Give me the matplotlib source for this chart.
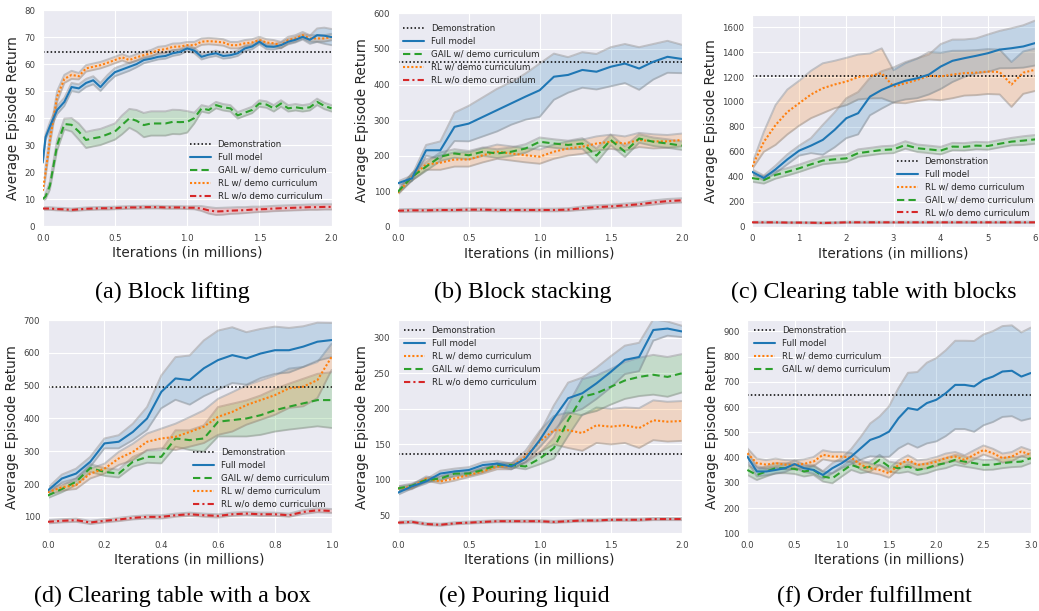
import matplotlib
matplotlib.use("Agg")
import matplotlib.pyplot as plt
import numpy as np
import seaborn as sns

# ---------- data ----------
# (a) Block lifting
xa = [0, 0.02, 0.05, 0.1, 0.15, 0.2, 0.25, 0.3, 0.35, 0.4, 0.45, 0.5, 0.55, 0.6, 0.65, 0.7, 0.75,
      0.8, 0.85, 0.9, 0.95, 1.0, 1.05, 1.1, 1.15, 1.2, 1.25, 1.3, 1.35, 1.4, 1.45, 1.5, 1.55, 1.6,
      1.65, 1.7, 1.75, 1.8, 1.85, 1.9, 1.95, 2.0]
a_full = [23.5, 33, 37, 43, 46, 51.5, 51, 53, 54, 51.5, 54.5, 57, 58, 59, 60, 61.5, 62, 62.7, 63,
          64, 64.5, 65.8, 65, 62.7, 63.5, 64, 63, 63.3, 64, 65.8, 66.5, 68.3, 66.5, 66.4, 67, 68.3,
          69, 70.1, 69, 70.7, 70.5, 70]
a_full_sd = [0.5, 1, 1.5, 1.5, 1.5, 1.5, 1.5, 1.5, 1.5, 1.5, 1.5, 1.5, 1.5, 1.5, 1.2, 1.2, 1, 1, 1,
             1, 1, 1, 1, 1, 1, 1, 1, 1, 1, 1, 1, 1, 1, 1, 1, 1, 1, 1, 1.5, 2.5, 3, 3]
a_rl = [13, 20, 32, 48, 54.5, 56, 55.5, 58.4, 59, 59.6, 60.5, 61.5, 62.5, 61.5, 62.5, 63.3, 64,
        65.2, 65.5, 66.4, 66.5, 67, 67, 68.3, 68.5, 68.3, 68, 67, 67, 67.7, 68, 68.9, 68, 67.7, 67,
        68.9, 69.5, 70.7, 69.5, 69.5, 69.5, 70]
a_rl_sd = [1, 2, 2, 2, 1.5, 1.5, 1.2, 1.2, 1.2, 1.2, 1.2, 1.2, 1.2, 1.2, 1.2, 1.2, 1.2, 1.2, 1.2,
           1.2, 1.2, 1.2, 1.2, 1.2, 1.2, 1.2, 1.2, 1.2, 1.2, 1.2, 1.2, 1.2, 1.2, 1.2, 1.2, 1.2, 1.2,
           1.2, 1.2, 1.2, 1.2, 1.2]
a_gail = [10, 11, 15, 30, 37.8, 37.5, 35, 31.9, 32.5, 33, 34, 35, 37.5, 39.9, 39, 37.4, 38, 38,
          38, 38.6, 38.5, 38.6, 40, 43.6, 43, 44.8, 44, 43.6, 41, 42, 43, 45.4, 45, 43.6, 45.4,
          43.6, 44, 43.6, 44, 46, 44.5, 43.6]
a_gail_sd = [0.5, 1, 1.5, 2, 2, 2.5, 3, 3, 3, 3, 3, 3, 3.5, 3.5, 4, 4.5, 4.5, 4.5, 4.5, 4.5, 4.5,
             4, 2, 1.2, 1.2, 1.2, 1.2, 1.2, 1.2, 1.2, 1.2, 1.2, 1.2, 1.2, 1.2, 1.2, 1.2, 1.2, 1.2,
             1.2, 1.2, 1.2]
a_rlwo = [6.5, 6.5, 6.5, 6.3, 6.2, 6, 6.2, 6.4, 6.5, 6.6, 6.6, 6.7, 6.8, 6.9, 6.9, 7, 7, 7, 6.9,
          6.9, 6.9, 6.8, 6.8, 6.5, 5.8, 5.4, 5.5, 5.7, 5.8, 5.9, 6.1, 6.2, 6.3, 6.5, 6.6, 6.7, 6.8,
          6.9, 7, 7, 7.1, 7.1]
a_rlwo_sd = [0.5, 0.5, 0.5, 0.5, 0.5, 0.5, 0.5, 0.5, 0.5, 0.5, 0.5, 0.5, 0.5, 0.5, 0.5, 0.5, 0.5,
             0.5, 0.5, 0.5, 0.5, 0.5, 0.6, 0.9, 1.2, 1.3, 1.3, 1.2, 1.2, 1.1, 1.1, 1, 1, 1, 1, 1,
             1, 1, 1, 1, 1, 1]
a_demo = 64.5

# (b) Block stacking
xb = [0, 0.1, 0.2, 0.3, 0.4, 0.5, 0.6, 0.7, 0.8, 0.9, 1.0, 1.1, 1.2, 1.3, 1.4, 1.5, 1.6, 1.7, 1.8,
      1.9, 2.0]
b_full = [122, 136, 215, 215, 281, 290, 309, 328, 347, 366, 384, 422, 427, 441, 436, 450, 459,
          445, 464, 478, 472]
b_full_sd = [5, 8, 15, 25, 40, 50, 55, 60, 60, 65, 75, 65, 50, 50, 50, 55, 55, 60, 50, 45, 40]
b_gail = [98, 140, 169, 197, 206, 201, 211, 206, 211, 220, 239, 234, 230, 234, 200, 244, 211,
          248, 239, 234, 228]
b_gail_sd = [5, 10, 12, 12, 12, 12, 12, 12, 12, 12, 12, 12, 12, 15, 20, 15, 15, 12, 12, 12, 12]
b_rl = [95, 140, 175, 180, 189, 189, 201, 211, 206, 201, 197, 211, 220, 225, 234, 239, 234, 244,
        240, 240, 244]
b_rl_sd = [5, 10, 15, 20, 20, 20, 20, 20, 20, 20, 20, 20, 20, 20, 20, 20, 20, 20, 20, 18, 18]
b_rlwo = [45, 46, 46, 47, 47, 48, 48, 47, 47, 47, 47, 47, 48, 52, 55, 57, 60, 63, 68, 72, 74]
b_rlwo_sd = [4, 4, 4, 4, 4, 4, 4, 4, 4, 4, 4, 4, 4, 5, 5, 5, 5, 5, 6, 6, 6]
b_demo = 462

# (c) Clearing table with blocks
xc = [0, 0.25, 0.5, 0.75, 1.0, 1.25, 1.5, 1.75, 2.0, 2.25, 2.5, 2.75, 3.0, 3.25, 3.5, 3.75, 4.0,
      4.25, 4.5, 4.75, 5.0, 5.25, 5.5, 5.75, 6.0]
c_full = [440, 390, 460, 540, 610, 650, 696, 776, 870, 910, 1043, 1097, 1137, 1170, 1190, 1220,
          1284, 1330, 1351, 1370, 1391, 1420, 1431, 1445, 1472]
c_full_sd = [20, 20, 30, 40, 40, 60, 120, 140, 160, 170, 150, 150, 140, 150, 160, 160, 180, 170,
             150, 140, 150, 150, 160, 170, 180]
c_rl = [480, 680, 816, 920, 990, 1060, 1110, 1140, 1164, 1200, 1209, 1230, 1124, 1150, 1177,
        1210, 1204, 1220, 1231, 1235, 1244, 1240, 1140, 1235, 1258]
c_rl_sd = [20, 80, 160, 180, 180, 190, 200, 190, 190, 180, 180, 200, 130, 160, 170, 190, 190,
           190, 180, 180, 180, 180, 180, 170, 170]
c_gail = [390, 375, 415, 440, 468, 500, 530, 540, 548, 590, 602, 615, 620, 655, 629, 620, 610,
          642, 640, 650, 647, 665, 682, 690, 700]
c_gail_sd = [30, 30, 30, 30, 30, 30, 30, 30, 30, 30, 30, 30, 30, 30, 30, 30, 30, 30, 30, 30, 30,
             30, 30, 35, 35]
c_rlwo = [35, 35, 35, 33, 33, 32, 30, 32, 35, 35, 35, 35, 35, 35, 35, 35, 35, 35, 35, 35, 35, 35,
          35, 35, 35]
c_rlwo_sd = [5, 5, 5, 5, 5, 5, 5, 5, 5, 5, 5, 5, 5, 5, 5, 5, 5, 5, 5, 5, 5, 5, 5, 5, 5]
c_demo = 1205

# (d) Clearing table with a box
xd = [0, 0.05, 0.1, 0.15, 0.2, 0.25, 0.3, 0.35, 0.4, 0.45, 0.5, 0.55, 0.6, 0.65, 0.7, 0.75, 0.8,
      0.85, 0.9, 0.95, 1.0]
d_full = [180, 217, 232, 268, 324, 329, 359, 400, 481, 522, 517, 553, 578, 593, 583, 598, 608,
          608, 619, 634, 639]
d_full_sd = [8, 12, 15, 15, 15, 20, 25, 35, 50, 65, 75, 85, 90, 85, 80, 75, 72, 68, 62, 58, 52]
d_gail = [165, 185, 207, 249, 237, 232, 268, 283, 283, 339, 334, 339, 390, 395, 400, 410, 425,
          436, 446, 456, 456]
d_gail_sd = [8, 10, 10, 12, 12, 12, 15, 18, 20, 25, 30, 40, 45, 50, 55, 60, 65, 70, 75, 80, 85]
d_rl = [175, 190, 197, 232, 247, 278, 298, 329, 339, 344, 359, 375, 405, 420, 441, 456, 471,
        492, 497, 517, 588]
d_rl_sd = [8, 10, 12, 15, 15, 20, 25, 25, 30, 40, 45, 50, 55, 60, 60, 60, 60, 60, 60, 55, 40]
d_rlwo = [85, 88, 90, 83, 88, 92, 97, 100, 100, 105, 108, 105, 103, 108, 110, 108, 108, 105,
          115, 120, 118]
d_rlwo_sd = [5, 5, 5, 5, 5, 5, 5, 5, 5, 5, 5, 5, 5, 5, 5, 5, 5, 5, 6, 6, 6]
d_demo = 497

# (e) Pouring liquid
xe = [0, 0.1, 0.2, 0.3, 0.4, 0.5, 0.6, 0.7, 0.8, 0.9, 1.0, 1.1, 1.2, 1.3, 1.4, 1.5, 1.6, 1.7, 1.8,
      1.9, 2.0]
e_full = [82, 91, 98, 109, 112, 114, 121, 123, 119, 130, 156, 187, 215, 222, 236, 252, 269, 273,
          311, 313, 309]
e_full_sd = [3, 3, 3, 4, 4, 4, 4, 4, 4, 5, 10, 18, 22, 22, 22, 22, 20, 20, 15, 10, 8]
e_rl = [88, 90, 102, 98, 102, 107, 112, 119, 119, 133, 154, 170, 170, 166, 177, 175, 177, 173,
        184, 182, 183]
e_rl_sd = [3, 3, 3, 3, 3, 3, 3, 4, 4, 8, 15, 20, 25, 25, 25, 25, 25, 28, 28, 28, 28]
e_gail = [88, 92, 100, 102, 109, 109, 114, 121, 121, 119, 130, 145, 184, 217, 222, 231, 240, 245,
          248, 245, 250]
e_gail_sd = [3, 3, 3, 3, 3, 3, 3, 3, 3, 4, 8, 15, 22, 25, 25, 25, 26, 27, 28, 28, 27]
e_rlwo = [40, 41, 38, 37, 39, 40, 41, 42, 42, 42, 42, 41, 42, 43, 43, 44, 44, 44, 45, 45, 45]
e_rlwo_sd = [1.5, 1.5, 1.5, 1.5, 1.5, 1.5, 1.5, 1.5, 1.5, 1.5, 1.5, 1.5, 1.5, 1.5, 1.5, 1.5, 1.5,
             1.5, 1.5, 1.5, 1.5]
e_demo = 136

# (f) Order fulfillment
xf = [0, 0.1, 0.2, 0.3, 0.4, 0.5, 0.6, 0.7, 0.8, 0.9, 1.0, 1.1, 1.2, 1.3, 1.4, 1.5, 1.6, 1.7, 1.8,
      1.9, 2.0, 2.1, 2.2, 2.3, 2.4, 2.5, 2.6, 2.7, 2.8, 2.9, 3.0]
f_full = [404, 345, 345, 351, 358, 374, 358, 351, 331, 358, 378, 404, 437, 470, 483, 503, 556,
          596, 589, 616, 629, 655, 688, 688, 682, 708, 721, 741, 744, 721, 735]
f_full_sd = [20, 20, 15, 15, 15, 15, 15, 15, 15, 20, 20, 30, 45, 65, 80, 100, 120, 140, 150, 160,
             165, 170, 175, 175, 180, 180, 180, 180, 180, 175, 180]
f_rl = [417, 378, 372, 378, 372, 371, 375, 384, 411, 404, 404, 400, 371, 358, 351, 338, 371, 391,
        371, 375, 384, 398, 404, 391, 411, 430, 417, 398, 404, 424, 411]
f_rl_sd = [20, 18, 18, 18, 18, 18, 18, 18, 18, 18, 18, 18, 18, 18, 18, 18, 18, 18, 18, 18, 18, 18,
           18, 18, 18, 18, 18, 18, 18, 18, 18]
f_gail = [351, 331, 345, 358, 358, 355, 345, 351, 325, 318, 345, 371, 358, 364, 391, 364, 358,
          364, 351, 358, 371, 378, 391, 384, 378, 371, 372, 378, 382, 384, 398]
f_gail_sd = [20, 20, 20, 20, 20, 20, 20, 20, 20, 20, 20, 20, 20, 20, 20, 20, 20, 20, 20, 20, 20,
             20, 20, 20, 20, 20, 20, 20, 20, 20, 20]
f_demo = 648

captions = ["(a) Block lifting", "(b) Block stacking", "(c) Clearing table with blocks",
            "(d) Clearing table with a box", "(e) Pouring liquid", "(f) Order fulfillment"]

# ---------- style ----------
sns.set_style("darkgrid")
plt.rcParams['font.family'] = ['DejaVu Sans']

BLUE, ORANGE, GREEN, RED = '#1f77b4', '#ff7f0e', '#2ca02c', '#d62728'
STY = {
    'full': (BLUE, '-', 'Full model'),
    'gail': (GREEN, (0, (3.5, 2)), 'GAIL w/ demo curriculum'),
    'rl': (ORANGE, (0, (1, 1)), 'RL w/ demo curriculum'),
    'rlwo': (RED, (0, (3, 1.5, 1, 1.5)), 'RL w/o demo curriculum'),
}

fig = plt.figure(figsize=(10.39, 6.11), dpi=100)


def panel(rect, x, series, demo, order, xlim, ylim, xticks, yticks, xfmt, leg_anchor):
    ax = fig.add_axes(rect)
    ax.axhline(demo, color='black', ls=(0, (1, 1.5)), lw=1.1, label='Demonstration', zorder=2)
    for key, (m, sd) in series.items():
        m = np.array(m, dtype=float)
        sd = np.array(sd, dtype=float)
        c = STY[key][0]
        ax.fill_between(x, m - sd, m + sd, color=c, alpha=0.2, lw=0, zorder=1)
        ax.plot(x, m - sd, color='gray', alpha=0.4, lw=1.4, zorder=1)
        ax.plot(x, m + sd, color='gray', alpha=0.4, lw=1.4, zorder=1)
    handles = {}
    for key, (m, sd) in series.items():
        c, ls, lab = STY[key]
        h, = ax.plot(x, m, color=c, ls=ls, lw=1.5, label=lab, zorder=3)
        handles[key] = h
    hs = [ax.get_lines()[0]] + [handles[k] for k in order]
    ax.legend(handles=hs, loc='upper left', bbox_to_anchor=leg_anchor, borderaxespad=0,
              frameon=False, fontsize=6.2, handlelength=2.4, labelspacing=0.45)
    ax.set_xlim(*xlim)
    ax.set_ylim(*ylim)
    ax.set_xticks(xticks)
    ax.set_xticklabels([xfmt % t for t in xticks])
    ax.set_yticks(yticks)
    ax.tick_params(labelsize=6.2, colors='.25', pad=2)
    ax.set_xlabel('Iterations (in millions)', fontsize=9.8, color='.15', labelpad=2)
    ax.set_ylabel('Average Episode Return', fontsize=9.8, color='.15', labelpad=3)
    return ax


panel([0.0411, 0.630, 0.278, 0.3535], xa,
      {'gail': (a_gail, a_gail_sd), 'rlwo': (a_rlwo, a_rlwo_sd), 'rl': (a_rl, a_rl_sd),
       'full': (a_full, a_full_sd)},
      a_demo, ['full', 'gail', 'rl', 'rlwo'], (0, 2), (0, 80),
      [0, 0.5, 1.0, 1.5, 2.0], [0, 10, 20, 30, 40, 50, 60, 70, 80], '%.1f', (0.498, 0.414))

panel([0.3828, 0.629, 0.2733, 0.349], xb,
      {'rlwo': (b_rlwo, b_rlwo_sd), 'rl': (b_rl, b_rl_sd), 'gail': (b_gail, b_gail_sd),
       'full': (b_full, b_full_sd)},
      b_demo, ['full', 'gail', 'rl', 'rlwo'], (0, 2), (0, 600),
      [0, 0.5, 1.0, 1.5, 2.0], [0, 100, 200, 300, 400, 500, 600], '%.1f', (0.007, 0.966))

panel([0.7238, 0.629, 0.2724, 0.347], xc,
      {'rlwo': (c_rlwo, c_rlwo_sd), 'gail': (c_gail, c_gail_sd), 'rl': (c_rl, c_rl_sd),
       'full': (c_full, c_full_sd)},
      c_demo, ['full', 'rl', 'gail', 'rlwo'], (0, 6), (0, 1700),
      [0, 1, 2, 3, 4, 5, 6], [0, 200, 400, 600, 800, 1000, 1200, 1400, 1600], '%d',
      (0.50, 0.345))

panel([0.0459, 0.1272, 0.2733, 0.349], xd,
      {'rlwo': (d_rlwo, d_rlwo_sd), 'gail': (d_gail, d_gail_sd), 'rl': (d_rl, d_rl_sd),
       'full': (d_full, d_full_sd)},
      d_demo, ['full', 'gail', 'rl', 'rlwo'], (0, 1), (50, 700),
      [0, 0.2, 0.4, 0.6, 0.8, 1.0], [100, 200, 300, 400, 500, 600, 700], '%.1f', (0.50, 0.416))

panel([0.3828, 0.1272, 0.2733, 0.349], xe,
      {'rlwo': (e_rlwo, e_rlwo_sd), 'rl': (e_rl, e_rl_sd), 'gail': (e_gail, e_gail_sd),
       'full': (e_full, e_full_sd)},
      e_demo, ['full', 'rl', 'gail', 'rlwo'], (0, 2), (25, 325),
      [0, 0.5, 1.0, 1.5, 2.0], [50, 100, 150, 200, 250, 300], '%.1f', (0.010, 0.988))

panel([0.7193, 0.1272, 0.2728, 0.349], xf,
      {'gail': (f_gail, f_gail_sd), 'rl': (f_rl, f_rl_sd), 'full': (f_full, f_full_sd)},
      f_demo, ['full', 'rl', 'gail'], (0, 3), (100, 945),
      [0, 0.5, 1.0, 1.5, 2.0, 2.5, 3.0], [100, 200, 300, 400, 500, 600, 700, 800, 900], '%.1f',
      (0.012, 0.988))

cap_pos = [(172, 292), (523, 292), (874, 292), (172, 596), (524, 596), (874, 596)]
for (px, py), txt in zip(cap_pos, captions):
    fig.text(px / 1039, 1 - py / 611, txt, ha='center', va='center',
             family=['Liberation Serif', 'DejaVu Serif'], fontsize=17.3, color='black')

fig.savefig('out.png', dpi=100)
